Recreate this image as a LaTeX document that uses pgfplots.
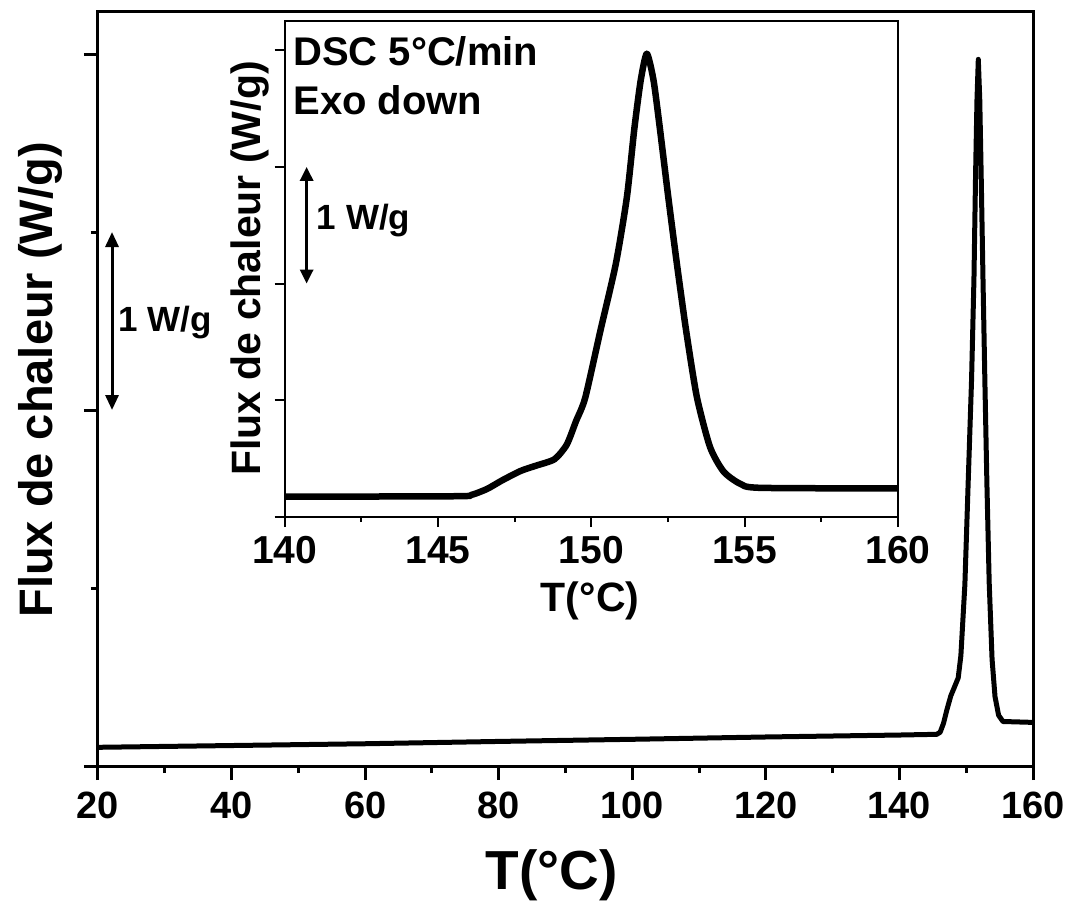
\documentclass[border=0pt]{standalone}
\usepackage{fontspec}
\setmainfont{Liberation Sans}
\usepackage{pgfplots}
\usepackage{pgfplotstable}
\pgfplotsset{compat=1.18}
\usetikzlibrary{arrows.meta}

\pgfplotstableread{
T W
20 0.105
40 0.115
60 0.125
80 0.138
100 0.150
120 0.163
140 0.174
145.6 0.178
146.1 0.190
146.6 0.240
147.1 0.315
147.7 0.395
148.2 0.440
148.8 0.495
149.2 0.620
149.5 0.820
149.8 1.020
150.3 1.600
150.8 2.170
151.16 2.740
151.4 3.320
151.61 3.740
151.81 3.970
152.03 3.740
152.24 3.320
152.51 2.740
152.79 2.170
153.09 1.600
153.44 1.030
153.87 0.600
154.31 0.390
154.85 0.285
155.5 0.250
160 0.245
}\dsc

\begin{document}
\begin{tikzpicture}[x=1pt,y=1pt]
\path[use as bounding box] (0,0) rectangle (1074,906);
\begin{axis}[
  at={(98pt,140pt)}, anchor=south west,
  scale only axis, width=935pt, height=754pt,
  xmin=20, xmax=160, ymin=0, ymax=4.236,
  xtick={20,40,...,160}, minor xtick={30,50,...,150},
  ytick={0,2,4}, minor ytick={1,3}, yticklabels={},
  xtick pos=bottom, ytick pos=left,
  tick align=outside,
  major tick length=14pt, minor tick length=7pt,
  axis line style={line width=3pt},
  every tick/.style={line width=3pt, black},
  /pgf/number format/assume math mode=true,
  xticklabel style={font=\fontsize{38}{40}\selectfont\bfseries, yshift=-8pt},
  xlabel={T(°C)}, ylabel={Flux de chaleur (W/g)},
  xlabel style={font=\fontsize{55}{60}\selectfont\bfseries, at={(axis description cs:0.485,-0.145)}, anchor=center},
  ylabel style={font=\fontsize{47}{52}\selectfont\bfseries, at={(axis description cs:-0.062,0.512)}, anchor=center, rotate=0},
]
\addplot[line width=5pt, black, line join=round] table[x=T,y=W] {\dsc};
\draw[{Triangle[width=13pt,length=15pt]}-{Triangle[width=13pt,length=15pt]}, line width=3pt] (axis cs:22.1,2) -- (axis cs:22.1,3);
\node[anchor=west, font=\fontsize{35}{40}\selectfont\bfseries, inner sep=0pt] at (axis cs:23.0,2.49) {1 W/g};
\end{axis}

\begin{axis}[
  at={(284.5pt,389pt)}, anchor=south west,
  scale only axis, width=613.5pt, height=496pt,
  axis background/.style={fill=white},
  xmin=140, xmax=160, ymin=0, ymax=4.25,
  xtick={140,145,...,160}, minor xtick={142.5,147.5,...,157.5},
  ytick={0,1,2,3,4}, yticklabels={},
  xtick pos=bottom, ytick pos=left,
  tick align=outside,
  major tick length=10pt, minor tick length=5pt,
  axis line style={line width=2pt},
  every tick/.style={line width=2pt, black},
  /pgf/number format/assume math mode=true,
  xticklabel style={font=\fontsize{39}{40}\selectfont\bfseries, yshift=-6pt},
  xlabel={T(°C)}, ylabel={Flux de chaleur (W/g)},
  label style={font=\fontsize{41}{44}\selectfont\bfseries},
  xlabel style={at={(axis description cs:0.498,-0.169)}, anchor=center},
  ylabel style={at={(axis description cs:-0.056,0.501)}, anchor=center, rotate=0},
]
\addplot[line width=6.5pt, black, smooth, tension=0.4, line join=round] table[x=T,y=W] {\dsc};
\draw[{Triangle[width=13pt,length=14pt]}-{Triangle[width=13pt,length=14pt]}, line width=3pt] (axis cs:140.72,2) -- (axis cs:140.72,3);
\node[anchor=west, font=\fontsize{35}{40}\selectfont\bfseries, inner sep=0pt] at (axis cs:141.05,2.54) {1 W/g};
\node[anchor=base west, font=\fontsize{40}{44}\selectfont\bfseries, inner sep=0pt] at (axis cs:140.28,3.865) {DSC 5°C/min};
\node[anchor=base west, font=\fontsize{40}{44}\selectfont\bfseries, inner sep=0pt] at (axis cs:140.28,3.445) {Exo down};
\end{axis}
\end{tikzpicture}
\end{document}
